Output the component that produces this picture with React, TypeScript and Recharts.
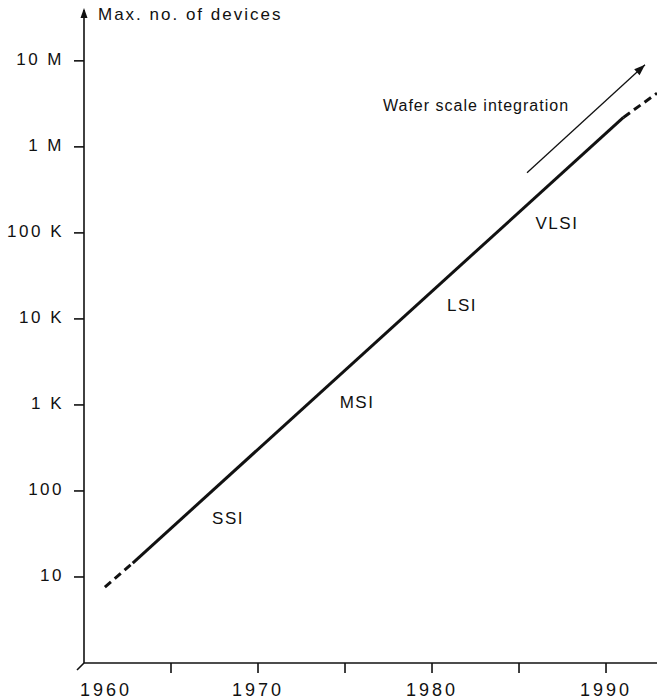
import { LineChart, Line, XAxis, YAxis, ReferenceDot } from "recharts";

const yearTicks = [1960, 1965, 1970, 1975, 1980, 1985, 1990];
const yearLabels = ["1960", "", "1970", "", "1980", "", "1990"];
const countTicks = [10, 100, 1e3, 1e4, 1e5, 1e6, 1e7];
const countLabels = ["10", "100", "1 K", "10 K", "100 K", "1 M", "10 M"];

const earlyYears = [1961.2, 1962.8];
const earlyCounts = [7.6, 14.5];
const trendYears = [1962.8, 1991.0];
const trendCounts = [14.5, 2.2e6];
const futureYears = [1991.0, 1992.93];
const futureCounts = [2.2e6, 4.2e6];
const waferYears = [1985.46, 1992.24];
const waferCounts = [5.0e5, 9.0e6];

const eraNames = ["SSI", "MSI", "LSI", "VLSI", "Wafer scale integration"];
const eraYears = [1968.28, 1975.69, 1981.72, 1987.18, 1982.53];
const eraCounts = [48, 1080, 14500, 130000, 3.0e6];

const yTitle = "Max. no. of devices";
const yearMin = 1960;
const yearMax = 1992.93;
const countMax = 3.9e7;

const INK = "#111";
const FONT = "'Liberation Sans', Arial, Helvetica, sans-serif";

const pairs = (xs: number[], ys: number[]) => xs.map((x, i) => ({ x, y: ys[i] }));

const YearTick = (props: any) => {
  const { x, y, index } = props;
  const label = yearLabels[index];
  return (
    <g>
      {index > 0 && <line x1={x} x2={x} y1={y} y2={y + 10} stroke={INK} strokeWidth={1.6} />}
      {label && (
        <text
          x={index === 0 ? x + 22 : x}
          y={y + 33}
          textAnchor="middle"
          fontFamily={FONT}
          fontSize={18}
          letterSpacing={3}
          fill={INK}
        >
          {label}
        </text>
      )}
    </g>
  );
};

const CountTick = (props: any) => {
  const { x, y, index } = props;
  return (
    <g>
      <line x1={x - 10} x2={x} y1={y} y2={y} stroke={INK} strokeWidth={1.6} />
      <text
        x={x - 20}
        y={y - 2}
        dy="0.35em"
        textAnchor="end"
        fontFamily={FONT}
        fontSize={17}
        letterSpacing={2.5}
        fill={INK}
      >
        {countLabels[index]}
      </text>
    </g>
  );
};

const ArrowHead = (props: any) => {
  const { cx, cy, index, points } = props;
  const last = points ? points.length - 1 : waferYears.length - 1;
  if (index !== last) return <g key={`a${index}`} />;
  let ang = -Math.PI / 4;
  if (points && points[index - 1]) {
    const prev = points[index - 1];
    ang = Math.atan2(cy - prev.y, cx - prev.x);
  }
  const len = 11;
  const half = 4;
  const bx = cx - len * Math.cos(ang);
  const by = cy - len * Math.sin(ang);
  const px = -Math.sin(ang) * half;
  const py = Math.cos(ang) * half;
  return (
    <path
      key={`a${index}`}
      d={`M${cx},${cy} L${bx + px},${by + py} L${bx - px},${by - py} Z`}
      fill={INK}
    />
  );
};

const AxisTop = (props: any) => {
  const { cx, cy } = props;
  return (
    <g>
      <path d={`M${cx},${cy - 2} L${cx - 3.5},${cy + 8} L${cx + 3.5},${cy + 8} Z`} fill={INK} />
      <text x={cx + 14} y={cy + 10} fontFamily={FONT} fontSize={17} letterSpacing={2} fill={INK}>
        {yTitle}
      </text>
    </g>
  );
};

const AxisCorner = (props: any) => {
  const { cx, cy } = props;
  return <line x1={cx} y1={cy} x2={cx - 7} y2={cy + 7} stroke={INK} strokeWidth={1.6} />;
};

const eraLabel = (name: string) => (props: any) => {
  const { cx, cy } = props;
  const wide = name.length > 5;
  return (
    <text
      x={cx}
      y={cy}
      dy="0.35em"
      textAnchor="middle"
      fontFamily={FONT}
      fontSize={wide ? 16 : 17}
      letterSpacing={wide ? 1 : 1.5}
      fill={INK}
    >
      {name}
    </text>
  );
};

export default function App() {
  return (
    <div style={{ position: "absolute", left: 0, top: 0, background: "#fff" }}>
      <LineChart width={657} height={699} margin={{ top: 10, right: 0, bottom: 0, left: 0 }}>
        <XAxis
          dataKey="x"
          type="number"
          domain={[yearMin, yearMax]}
          ticks={yearTicks}
          interval={0}
          allowDataOverflow
          height={36}
          axisLine={{ stroke: INK, strokeWidth: 1.6 }}
          tickLine={false}
          tickSize={0}
          tickMargin={0}
          tick={<YearTick />}
        />
        <YAxis
          dataKey="y"
          type="number"
          scale="log"
          domain={[1, countMax]}
          ticks={countTicks}
          interval={0}
          allowDataOverflow
          width={84}
          axisLine={{ stroke: INK, strokeWidth: 1.6 }}
          tickLine={false}
          tickSize={0}
          tickMargin={0}
          tick={<CountTick />}
        />
        <Line
          data={pairs(earlyYears, earlyCounts)}
          dataKey="y"
          type="linear"
          stroke={INK}
          strokeWidth={3}
          strokeDasharray="8 5"
          dot={false}
          isAnimationActive={false}
        />
        <Line
          data={pairs(trendYears, trendCounts)}
          dataKey="y"
          type="linear"
          stroke={INK}
          strokeWidth={3}
          dot={false}
          isAnimationActive={false}
        />
        <Line
          data={pairs(futureYears, futureCounts)}
          dataKey="y"
          type="linear"
          stroke={INK}
          strokeWidth={3}
          strokeDasharray="8 5"
          dot={false}
          isAnimationActive={false}
        />
        <Line
          data={pairs(waferYears, waferCounts)}
          dataKey="y"
          type="linear"
          stroke={INK}
          strokeWidth={1.3}
          dot={<ArrowHead />}
          isAnimationActive={false}
        />
        <ReferenceDot x={yearMin} y={countMax} r={0} ifOverflow="visible" shape={<AxisTop />} />
        <ReferenceDot x={yearMin} y={1} r={0} ifOverflow="visible" shape={<AxisCorner />} />
        {eraNames.map((name, i) => (
          <ReferenceDot
            key={name}
            x={eraYears[i]}
            y={eraCounts[i]}
            r={0}
            ifOverflow="visible"
            shape={eraLabel(name)}
          />
        ))}
      </LineChart>
    </div>
  );
}
